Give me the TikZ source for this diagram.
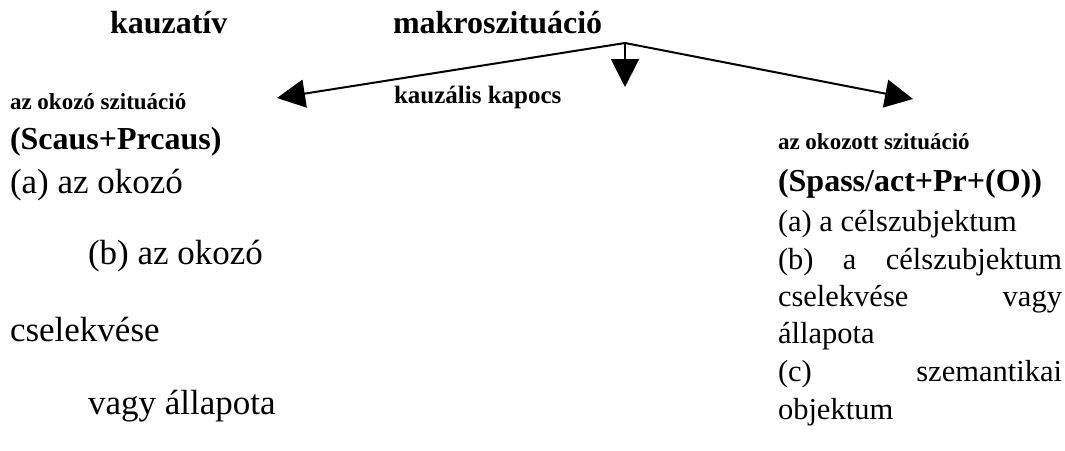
\documentclass[tikz,border=0pt]{standalone}
\usepackage{fontspec}
\setmainfont{Liberation Serif}
\usetikzlibrary{arrows.meta}
\tikzset{
  txt/.style={anchor=base west, inner sep=0pt, outer sep=0pt, font=\fontsize{30.5}{34}\selectfont},
  ltxt/.style={txt, font=\fontsize{35}{38}\selectfont},
  btxt/.style={txt, font=\fontsize{32}{36}\selectfont\bfseries},
  stxt/.style={txt, font=\fontsize{23}{26}\selectfont\bfseries},
  conn/.style={line width=2pt, -{Triangle[length=28pt,width=28pt]}},
}
\begin{document}
\begin{tikzpicture}[x=1pt,y=-1pt]
\useasboundingbox (0,0) rectangle (1065,450);
% titles
\node[btxt] (kauz) at (110,33) {kauzatív};
\node[btxt] (makro) at (393,33) {makroszituáció};
\node[stxt, font=\fontsize{25}{28}\selectfont\bfseries] (kapocs) at (394,103) {kauzális kapocs};
% left column
\node[stxt] (okozo) at (10,109) {az okozó szituáció};
\node[btxt] (scaus) at (10,149) {(Scaus+Prcaus)};
\node[ltxt] (la) at (10,193) {(a) az okozó};
\node[ltxt] (lb) at (88,264) {(b) az okozó};
\node[ltxt] (lc) at (10,341) {cselekvése};
\node[ltxt] (ld) at (88,414) {vagy állapota};
% right column
\node[stxt] (okozott) at (778,149) {az okozott szituáció};
\node[btxt] (spass) at (778,191) {(Spass/act+Pr+(O))};
\node[txt] (ra) at (778,231) {(a) a célszubjektum};
\node[txt] (rb) at (778,269) {\hbox to 284pt{(b)\hfill a\hfill célszubjektum}};
\node[txt] (rc) at (778,306) {\hbox to 284pt{cselekvése\hfill vagy}};
\node[txt] (rd) at (778,343) {állapota};
\node[txt] (re) at (778,381) {\hbox to 284pt{(c)\hfill szemantikai}};
\node[txt] (rf) at (778,419) {objektum};
% connectors
\coordinate (j) at (625,43);
\coordinate (lt) at (277,98);
\coordinate (rt) at (913,99);
\coordinate (dt) at (625,87);
\draw[conn] (j) -- (lt);
\draw[conn] (j) -- (rt);
\draw[conn] (j) -- (dt);
\end{tikzpicture}
\end{document}
